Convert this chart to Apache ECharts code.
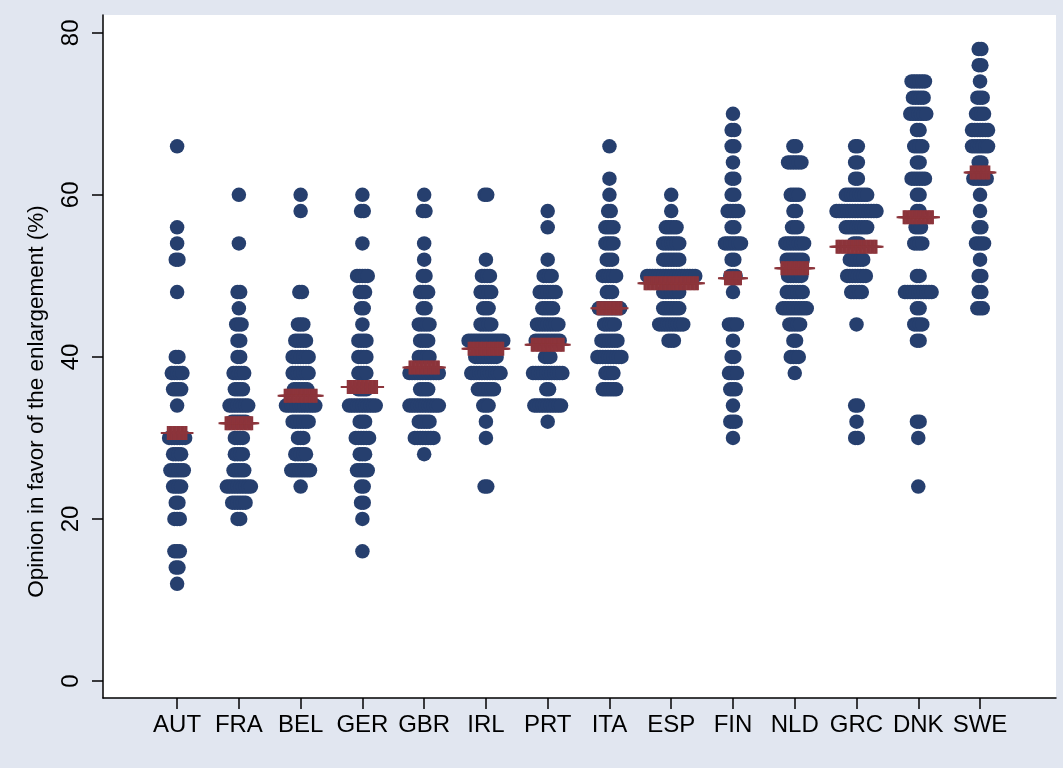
<!DOCTYPE html>
<html><head><meta charset="utf-8">
<script src="https://cdn.jsdelivr.net/npm/echarts@6/dist/echarts.min.js"></script>
<style>html,body{margin:0;padding:0;background:#e1e6f0;}#c{width:1063px;height:768px;}</style>
</head><body><div id="c"></div>
<script>
const categories = ['AUT','FRA','BEL','GER','GBR','IRL','PRT','ITA','ESP','FIN','NLD','GRC','DNK','SWE'];
const yTicks = [0, 20, 40, 60, 80];
// [value (%), number of observations at that value]
const AUT = [[66,1],[56,1],[54,1],[52,2],[48,1],[40,2],[38,5],[36,4],[34,1],[30,7],[28,4],[26,6],[24,4],[22,2],[20,3],[16,3],[14,2],[12,1]];
const FRA = [[60,1],[54,1],[48,2],[46,1],[44,3],[42,2],[40,2],[38,5],[36,4],[34,8],[32,6],[30,4],[28,4],[26,5],[24,10],[22,6],[20,2]];
const BEL = [[60,1],[58,1],[48,2],[44,3],[42,5],[40,7],[38,7],[36,6],[34,12],[32,7],[30,3],[28,5],[26,8],[24,1]];
const GER = [[60,1],[58,2],[54,1],[50,5],[48,3],[46,2],[44,1],[42,4],[40,4],[38,4],[36,4],[34,11],[32,3],[30,6],[28,3],[26,5],[24,2],[22,2],[20,1],[16,1]];
const GBR = [[60,1],[58,2],[54,1],[52,1],[50,2],[48,4],[46,2],[44,5],[42,4],[40,5],[38,12],[36,4],[34,12],[32,5],[30,8],[28,1]];
const IRL = [[60,2],[52,1],[50,4],[48,5],[46,3],[44,5],[42,14],[40,9],[38,12],[36,7],[34,3],[32,1],[30,1],[24,2]];
const PRT = [[58,1],[56,1],[52,1],[50,4],[48,7],[46,5],[44,9],[42,10],[40,3],[38,12],[36,2],[34,11],[32,1]];
const ITA = [[66,1],[62,1],[60,1],[58,2],[56,4],[54,4],[52,3],[50,6],[48,3],[46,9],[44,5],[42,7],[40,10],[38,4],[36,6]];
const ESP = [[60,1],[58,1],[56,5],[54,7],[52,7],[50,19],[48,7],[46,7],[44,10],[42,3]];
const FIN = [[70,1],[68,2],[66,2],[64,1],[62,2],[60,2],[58,5],[56,2],[54,7],[52,2],[50,3],[48,1],[44,4],[42,1],[40,2],[38,4],[36,3],[34,1],[32,3],[30,1]];
const NLD = [[66,2],[64,6],[60,4],[58,2],[56,3],[54,8],[52,7],[50,6],[48,7],[46,10],[44,5],[42,2],[40,4],[38,1]];
const GRC = [[66,2],[64,2],[62,2],[60,9],[58,16],[56,9],[54,3],[52,6],[50,8],[48,5],[44,1],[34,2],[32,1],[30,2]];
const DNK = [[74,6],[72,5],[70,7],[68,2],[66,4],[64,2],[62,6],[60,2],[58,2],[56,3],[54,4],[50,2],[48,11],[46,2],[44,4],[42,2],[32,2],[30,1],[24,1]];
const SWE = [[78,2],[76,2],[74,1],[72,3],[70,4],[68,7],[66,7],[64,2],[62,6],[60,1],[58,1],[56,2],[54,4],[52,1],[50,2],[48,2],[46,3]];
const dotRows = [AUT, FRA, BEL, GER, GBR, IRL, PRT, ITA, ESP, FIN, NLD, GRC, DNK, SWE];
// country means (%) and number of repeated mean markers
const means = [30.6, 31.8, 35.2, 36.3, 38.7, 41.0, 41.5, 46.0, 49.1, 49.7, 50.95, 53.6, 57.25, 62.75];
const meanReps = [15, 21, 25, 23, 23, 27, 25, 19, 41, 13, 21, 31, 23, 15];

const DX = 0.0432;      // horizontal spread between stacked dots, in category units
const DXM = DX / 2;     // spread between repeated mean markers

const dotData = [];
dotRows.forEach(function (rows, i) {
  rows.forEach(function (r) {
    const k = r[1];
    for (let j = 0; j < k; j++) dotData.push([i + 1 + (j - (k - 1) / 2) * DX, r[0]]);
  });
});
const meanData = [];
means.forEach(function (m, i) {
  const k = meanReps[i];
  for (let j = 0; j < k; j++) meanData.push([i + 1 + (j - (k - 1) / 2) * DXM, m]);
});

const chart = echarts.init(document.getElementById('c'), null, {renderer: 'canvas'});
const font = '"Liberation Sans", Arial, sans-serif';
chart.setOption({
  backgroundColor: '#e1e6f0',
  animation: false,
  grid: {left: 103, right: 7, top: 15, bottom: 70, show: true, backgroundColor: '#ffffff', borderWidth: 0},
  xAxis: {
    type: 'value', min: -0.2, max: 15.23,
    splitLine: {show: false},
    axisLine: {show: true, onZero: false, lineStyle: {color: '#000', width: 1.5}},
    axisTick: {show: true, length: 11, lineStyle: {color: '#000', width: 1.5}, customValues: categories.map(function (c, i) { return i + 1; })},
    axisLabel: {
      customValues: categories.map(function (c, i) { return i + 1; }),
      formatter: function (v) { return categories[Math.round(v) - 1] || ''; },
      color: '#000', fontSize: 24, fontFamily: font, margin: 15
    }
  },
  yAxis: {
    type: 'value', min: -2.1, max: 82.2,
    splitLine: {show: false},
    axisLine: {show: true, onZero: false, lineStyle: {color: '#000', width: 1.5}},
    axisTick: {show: true, length: 11, lineStyle: {color: '#000', width: 1.5}, customValues: yTicks},
    axisLabel: {customValues: yTicks, rotate: 90, color: '#000', fontSize: 24, fontFamily: font, margin: 20},
    name: 'Opinion in favor of the enlargement (%)',
    nameLocation: 'middle', nameRotate: 90, nameGap: 55,
    nameTextStyle: {color: '#000', fontSize: 22.5, fontFamily: font, padding: [0, 90, 0, 0]}
  },
  series: [
    {type: 'scatter', data: dotData, symbol: 'circle', symbolSize: 14.5,
     itemStyle: {color: '#263f6e', opacity: 1}, z: 2},
    {type: 'scatter', data: meanData,
     symbol: 'path://M6,0H8V6H14V8H8V14H6V8H0V6H6Z', symbolSize: [14, 14],
     itemStyle: {color: '#8c343b', opacity: 1}, z: 3}
  ]
});
</script></body></html>
